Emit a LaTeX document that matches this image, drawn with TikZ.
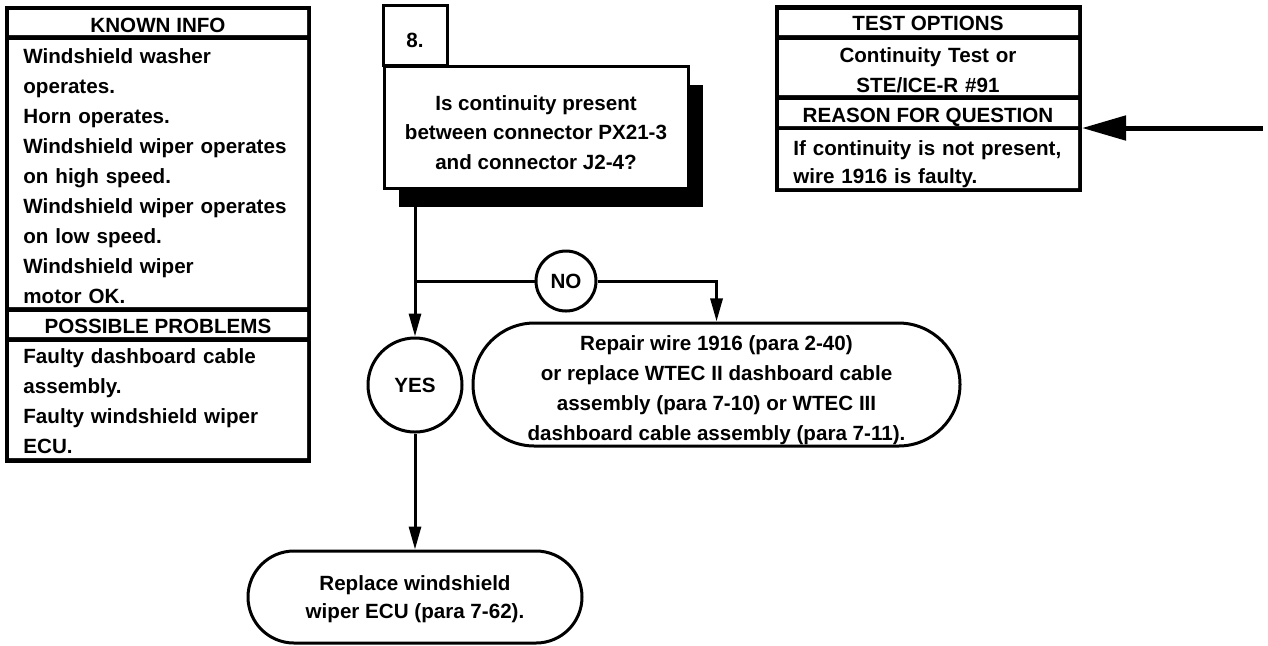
\documentclass[tikz,border=0pt]{standalone}
\usepackage{fontspec}
\setmainfont{Liberation Sans}
\usetikzlibrary{arrows.meta,shapes.misc,shadows}

\tikzset{
  txt/.style={font=\fontsize{10.3}{15}\selectfont\bfseries, inner sep=0pt},
  head/.style={txt, anchor=base},
  body/.style={txt, anchor=base west, text width=145pt, align=left},
  cbody/.style={txt, anchor=base, text width=145pt, align=center},
  box/.style={draw, line width=1.5pt, fill=white, txt, align=center},
  answer/.style={circle, draw, line width=1.5pt, fill=white, txt},
  action/.style={rounded rectangle, draw, line width=1.5pt, fill=white, txt, align=center},
  link/.style={line width=1.5pt},
  flow/.style={link, -{Triangle[length=11.5pt,width=6pt]}},
  feedarrow/.style={line width=2.5pt, -{Triangle[length=22pt,width=12pt]}}
}
% pushes the first line of a node down
\newcommand\topgap[1]{\rule{0pt}{#1}}

\begin{document}
\begin{tikzpicture}[x=0.5pt,y=-0.5pt]
\useasboundingbox (0,0) rectangle (1268,645);

% known info / possible problems
\fill (5,6) rectangle (311,463);
\fill[white] (9,10) rectangle (307,35) (9,40) rectangle (307,307)
  (9,312) rectangle (307,337) (9,342) rectangle (307,458);
\node[head] (knownhd) at (158,32) {KNOWN INFO};
\node[body] (knowntxt) at (23,63) {Windshield washer\\operates.\\Horn operates.\\Windshield wiper operates\\on high speed.\\Windshield wiper operates\\on low speed.\\Windshield wiper\\motor OK.};
\node[head] (probhd) at (158,333) {POSSIBLE PROBLEMS};
\node[body] (probtxt) at (23,363) {Faulty dashboard cable\\assembly.\\Faulty windshield wiper\\ECU.};

% test options / reason for question
\fill (775,5) coordinate (testnw) rectangle (1082,192) coordinate (testse);
\fill[white] (779,10) rectangle (1078,35) (779,40) rectangle (1078,95)
  (779,100) rectangle (1078,126) (779,130) rectangle (1078,188);
\node[head] (testhd) at (928,30) {TEST OPTIONS};
\node[cbody] (testtxt) at (928,62) {Continuity Test or\\STE/ICE-R \#91};
\node[head] (reasonhd) at (928,122) {REASON FOR QUESTION};
\node[body, font=\fontsize{10.3}{14}\selectfont\bfseries] (reasontxt) at (793,155)
  {If continuity is not present,\\wire 1916 is faulty.};

% step 8
\node[box, minimum width=32pt, minimum height=30pt] (stepno) at (415,35) {\topgap{12.4pt}8.};
\node[box, minimum width=152pt, minimum height=61pt,
  font=\fontsize{10.3}{14.75}\selectfont\bfseries,
  general shadow={fill=black, shadow xshift=7.5pt, shadow yshift=-9pt}]
  (question) at (536,127.5) {\topgap{12.5pt}Is continuity present\\between connector PX21-3\\and connector J2-4?};

\node[answer, minimum size=30pt] (no) at (566,281) {NO};
\node[answer, minimum size=47pt] (yes) at (415,385) {YES};
\node[action, minimum width=243.5pt, minimum height=61.5pt] (repair) at (716.5,384.5)
  {\topgap{13.5pt}Repair wire 1916 (para 2-40)\\or replace WTEC II dashboard cable\\assembly (para 7-10) or WTEC III\\dashboard cable assembly (para 7-11).};
\node[action, minimum width=167pt, minimum height=46pt,
  font=\fontsize{10.3}{14.25}\selectfont\bfseries] (replace) at (415,597)
  {\topgap{9.5pt}Replace windshield\\wiper ECU (para 7-62).};

\coordinate (split) at (415,281);
\draw[link] (question.south -| split) -- (split) -- (no);
\draw[flow] (split) -- (yes);
\draw[flow] (no) -| (repair);
\draw[flow] (yes) -- (replace);

\coordinate (feed) at (1263,128);
\draw[feedarrow] (feed) -- (feed -| testse);
\end{tikzpicture}
\end{document}
